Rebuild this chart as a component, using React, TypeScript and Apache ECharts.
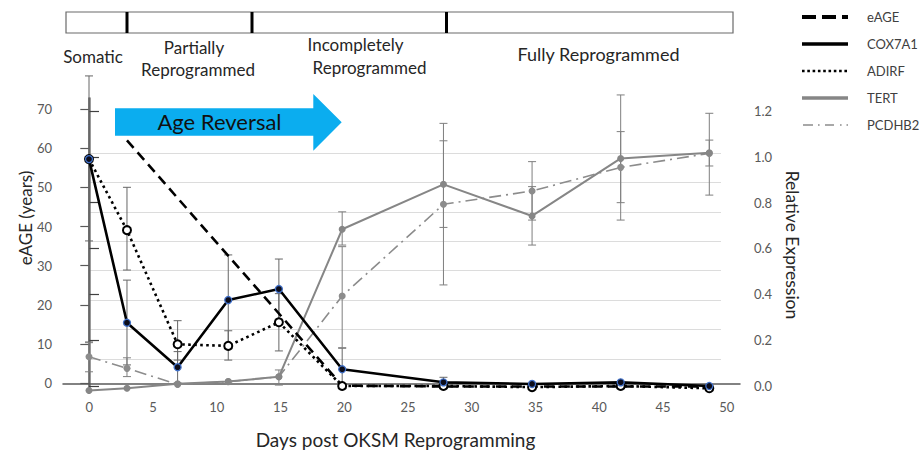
import React, { useEffect, useRef } from 'react';
import * as echarts from 'echarts';

// ---- data ----
const days = [0, 3, 7, 11, 15, 20, 28, 35, 42, 49];
const cox7a1 = [0.99, 0.276, 0.082, 0.375, 0.423, 0.073, 0.016, 0.009, 0.016, 0.0];
const adirf = [0.99, 0.68, 0.182, 0.175, 0.278, 0.0, 0.0, -0.005, 0.0, -0.01];
const tert = [-0.02, -0.01, 0.01, 0.02, 0.04, 0.684, 0.88, 0.742, 0.993, 1.018];
const pcdhb2 = [0.128, 0.077, 0.007, 0.019, 0.04, 0.393, 0.793, 0.851, 0.954, 1.015];
const eageDays = [3, 20, 28, 35, 42, 49];
const eageYears = [62, -0.6, -0.8, -0.8, -0.8, -0.8];

// error bars: [day, low, high]
const coxErr = [[0, 0.633, 1.353], [3, 0.092, 0.462], [7, 0.013, 0.15], [11, 0.179, 0.572], [15, 0.292, 0.554], [20, -0.01, 0.165], [28, 0.0, 0.038]];
const adirfErr = [[0, 0.192, 0.99], [3, 0.506, 0.867], [7, 0.113, 0.285], [11, 0.113, 0.241], [15, 0.153, 0.403]];
const tertErr = [[15, 0.004, 0.07], [20, 0.615, 0.76], [28, 0.692, 1.07], [35, 0.615, 0.87], [42, 0.724, 1.27], [49, 0.833, 1.19]];
const pcdhb2Err = [[0, 0.062, 0.189], [3, 0.041, 0.123], [20, 0.167, 0.608], [28, 0.441, 1.146], [35, 0.724, 0.979], [42, 0.8, 1.11], [49, 0.96, 1.073]];

const xTicks = [0, 5, 10, 15, 20, 25, 30, 35, 40, 45, 50];
const leftTicks = [0, 10, 20, 30, 40, 50, 60, 70];
const rightTicks = [0, 0.2, 0.4, 0.6, 0.8, 1.0, 1.2];

const stages = ['Somatic', 'Partially', 'Reprogrammed', 'Incompletely', 'Reprogrammed', 'Fully Reprogrammed'];
const legendNames = ['eAGE', 'COX7A1', 'ADIRF', 'TERT', 'PCDHB2'];

const FONT = 'Lato, "Open Sans", sans-serif';

const corners = 'M0 0L0.01 0L0 0.01Z M60 8L59.99 8L60 7.99Z ';
const rect = (x1: number, x2: number, t: number) =>
  `M${x1} ${4 - t / 2}L${x2} ${4 - t / 2}L${x2} ${4 + t / 2}L${x1} ${4 + t / 2}Z `;
const dotsPath = () => {
  let s = '';
  for (let x = 0; x < 46; x += 5.3) s += rect(x, x + 2.6, 2.6);
  return s;
};
const icons: Record<string, string> = {
  eAGE: 'path://' + corners + rect(0, 14, 4) + rect(20, 34, 4) + rect(40, 46, 4),
  COX7A1: 'path://' + corners + rect(0, 46, 3.6),
  ADIRF: 'path://' + corners + dotsPath(),
  TERT: 'path://' + corners + rect(0, 46, 3.6),
  PCDHB2: 'path://' + corners + rect(1, 11, 1.4) + rect(16, 17.6, 1.4) + rect(23, 32, 1.4) + rect(38, 39.6, 1.4) + rect(44.5, 46, 1.4),
};
const legendColors: Record<string, string> = {
  eAGE: '#000', COX7A1: '#000', ADIRF: '#000', TERT: '#868686', PCDHB2: '#8c8c8c',
};

const pairs = (xs: number[], ys: number[]) => xs.map((x, i) => [x, ys[i]]);

const errSeries = (name: string, data: number[][], color: string) => ({
  type: 'custom',
  name,
  xAxisIndex: 1,
  yAxisIndex: 1,
  z: 1,
  silent: true,
  clip: false,
  encode: { x: 0, y: [1, 2] },
  data,
  renderItem: (_p: any, api: any) => {
    const x = api.value(0);
    const lo = api.value(1);
    const hi = api.value(2);
    const a = api.coord([x, hi]);
    const b = api.coord([x, lo]);
    const w = 4;
    const st = { stroke: color, lineWidth: 1 };
    return {
      type: 'group',
      children: [
        { type: 'line', shape: { x1: a[0], y1: a[1], x2: b[0], y2: b[1] }, style: st },
        { type: 'line', shape: { x1: a[0] - w, y1: a[1], x2: a[0] + w, y2: a[1] }, style: st },
        { type: 'line', shape: { x1: b[0] - w, y1: b[1], x2: b[0] + w, y2: b[1] }, style: st },
      ],
    };
  },
});

export default function App() {
  const ref = useRef<HTMLDivElement>(null);
  useEffect(() => {
    if (!ref.current) return;
    const chart = echarts.init(ref.current, undefined, { renderer: 'svg' });
    const labelCol = '#595959';
    const option: any = {
      animation: false,
      backgroundColor: '#fff',
      textStyle: { fontFamily: FONT },
      legend: {
        orient: 'vertical',
        left: 797,
        top: 4,
        itemWidth: 60,
        itemHeight: 8,
        itemGap: 11,
        symbolKeepAspect: false,
        selectedMode: false,
        textStyle: { fontFamily: FONT, fontSize: 13, color: '#404040', lineHeight: 16 },
        data: legendNames.map((n) => ({
          name: n,
          icon: icons[n],
          itemStyle: { color: legendColors[n], borderWidth: 0, opacity: 1 },
        })),
      },
      grid: [
        { left: 63, right: 184, top: 98, bottom: 64 },
        { left: 90, right: 203, top: 153, bottom: 67.6 },
      ],
      xAxis: [
        {
          type: 'value',
          gridIndex: 0,
          min: -2.063,
          max: 51.043,
          axisLine: { show: true, lineStyle: { color: '#595959', width: 1.5 } },
          axisTick: { show: false },
          splitLine: { show: false },
          axisLabel: { customValues: xTicks, color: labelCol, fontSize: 13, margin: 8, fontFamily: FONT },
          name: 'Days post OKSM Reprogramming',
          nameLocation: 'middle',
          nameGap: 38,
          nameTextStyle: { fontFamily: FONT, fontSize: 19, color: '#262626', padding: [0, 12, 0, 0] },
        },
        {
          type: 'value',
          gridIndex: 0,
          min: -2.054,
          max: 51.425,
          show: false,
        },
        {
          type: 'value',
          gridIndex: 1,
          min: 0,
          max: 1,
          show: false,
        },
      ],
      yAxis: [
        {
          type: 'value',
          gridIndex: 0,
          position: 'left',
          min: -2.22,
          max: 72.81,
          axisLine: { show: true, lineStyle: { color: '#7a7a7a', width: 1.5 } },
          axisTick: { show: true, customValues: leftTicks, length: 9, inside: false, lineStyle: { color: '#595959', width: 1.2 } },
          axisLabel: { customValues: leftTicks, color: labelCol, fontSize: 13, margin: 11, fontFamily: FONT },
          splitLine: { show: false },
        },
        {
          type: 'value',
          gridIndex: 0,
          position: 'right',
          min: -0.0262,
          max: 1.2567,
          axisLine: { show: true, lineStyle: { color: '#595959', width: 1.5 } },
          axisTick: { show: true, customValues: rightTicks, length: 10, inside: false, lineStyle: { color: '#404040', width: 1.2 } },
          axisLabel: {
            customValues: rightTicks,
            color: labelCol,
            fontSize: 13,
            margin: 14,
            fontFamily: FONT,
            formatter: (v: number) => v.toFixed(1),
          },
          splitLine: { show: false },
          name: 'Relative Expression',
          nameLocation: 'middle',
          nameRotate: -90,
          nameGap: 37,
          nameTextStyle: { fontFamily: FONT, fontSize: 17.5, color: '#262626' },
        },
        {
          type: 'value',
          gridIndex: 1,
          min: 0,
          max: 8,
          interval: 1,
          axisLine: { show: false },
          axisTick: { show: false },
          axisLabel: { show: false },
          splitLine: { show: true, showMinLine: false, lineStyle: { color: '#dcdcdc', width: 1 } },
        },
      ],
      graphic: [
        { type: 'rect', shape: { x: 66, y: 12, width: 667, height: 21 }, style: { fill: '#fff', stroke: '#6a6a6a', lineWidth: 1.2 }, z: 10 },
        { type: 'line', shape: { x1: 127, y1: 12, x2: 127, y2: 33 }, style: { stroke: '#000', lineWidth: 3 }, z: 11 },
        { type: 'line', shape: { x1: 252, y1: 12, x2: 252, y2: 33 }, style: { stroke: '#000', lineWidth: 3 }, z: 11 },
        { type: 'line', shape: { x1: 446.5, y1: 12, x2: 446.5, y2: 33 }, style: { stroke: '#000', lineWidth: 3 }, z: 11 },
        { type: 'text', x: 93, y: 56.5, style: { text: stages[0], font: `17px ${FONT}`, fill: '#262626', align: 'center', verticalAlign: 'middle' }, z: 10 },
        { type: 'text', x: 194, y: 47.5, style: { text: stages[1], font: `17px ${FONT}`, fill: '#262626', align: 'center', verticalAlign: 'middle' }, z: 10 },
        { type: 'text', x: 198, y: 69, style: { text: stages[2], font: `17px ${FONT}`, fill: '#262626', align: 'center', verticalAlign: 'middle' }, z: 10 },
        { type: 'text', x: 355.5, y: 44.5, style: { text: stages[3], font: `17px ${FONT}`, fill: '#262626', align: 'center', verticalAlign: 'middle' }, z: 10 },
        { type: 'text', x: 369.5, y: 67.5, style: { text: stages[4], font: `17px ${FONT}`, fill: '#262626', align: 'center', verticalAlign: 'middle' }, z: 10 },
        { type: 'text', x: 598.5, y: 53.5, style: { text: stages[5], font: `18px ${FONT}`, fill: '#262626', align: 'center', verticalAlign: 'middle' }, z: 10 },
        {
          type: 'polygon',
          shape: { points: [[115, 108.3], [313.3, 108.3], [313.3, 94], [341.7, 122.3], [313.3, 150.7], [313.3, 135.7], [115, 135.7]] },
          style: { fill: '#0BADEF' },
          z: 10,
        },
        { type: 'text', x: 219.5, y: 121.5, style: { text: 'Age Reversal', font: `22px ${FONT}`, fill: '#111', align: 'center', verticalAlign: 'middle' }, z: 11 },
        { type: 'text', x: 25, y: 218, rotation: Math.PI / 2, style: { text: 'eAGE (years)', font: `17px ${FONT}`, fill: '#262626', align: 'center', verticalAlign: 'middle' }, z: 10 },
      ],
      series: [
        errSeries('COX7A1 err', coxErr, '#666'),
        errSeries('ADIRF err', adirfErr, '#666'),
        errSeries('TERT err', tertErr, '#7f7f7f'),
        errSeries('PCDHB2 err', pcdhb2Err, '#7f7f7f'),
        {
          type: 'line',
          name: 'PCDHB2',
          xAxisIndex: 1,
          yAxisIndex: 1,
          data: pairs(days, pcdhb2),
          symbol: 'circle',
          symbolSize: 7,
          itemStyle: { color: '#8c8c8c' },
          lineStyle: { color: '#8c8c8c', width: 1.6, type: [12, 5, 2, 5] },
          z: 3,
        },
        {
          type: 'line',
          name: 'TERT',
          xAxisIndex: 1,
          yAxisIndex: 1,
          data: pairs(days, tert),
          symbol: 'circle',
          symbolSize: 7,
          itemStyle: { color: '#868686' },
          lineStyle: { color: '#868686', width: 2 },
          z: 3,
        },
        {
          type: 'line',
          name: 'eAGE',
          xAxisIndex: 1,
          yAxisIndex: 0,
          data: pairs(eageDays, eageYears),
          symbol: 'none',
          lineStyle: { color: '#000', width: 2.6, type: [10, 6] },
          z: 4,
        },
        {
          type: 'line',
          name: 'ADIRF',
          xAxisIndex: 1,
          yAxisIndex: 1,
          data: pairs(days, adirf),
          symbol: 'emptyCircle',
          symbolSize: 8,
          itemStyle: { color: '#000', borderWidth: 2 },
          lineStyle: { color: '#000', width: 2.6, type: [2.6, 3.4] },
          z: 5,
        },
        {
          type: 'line',
          name: 'COX7A1',
          xAxisIndex: 1,
          yAxisIndex: 1,
          data: pairs(days, cox7a1),
          symbol: 'circle',
          symbolSize: 7,
          itemStyle: { color: '#0d0d1a', borderColor: '#3f6fc8', borderWidth: 1.3 },
          lineStyle: { color: '#000', width: 2.6 },
          z: 6,
        },
      ],
    };
    chart.setOption(option);
    return () => chart.dispose();
  }, []);
  return <div ref={ref} style={{ position: 'fixed', left: 0, top: 0, width: 924, height: 456 }} />;
}
